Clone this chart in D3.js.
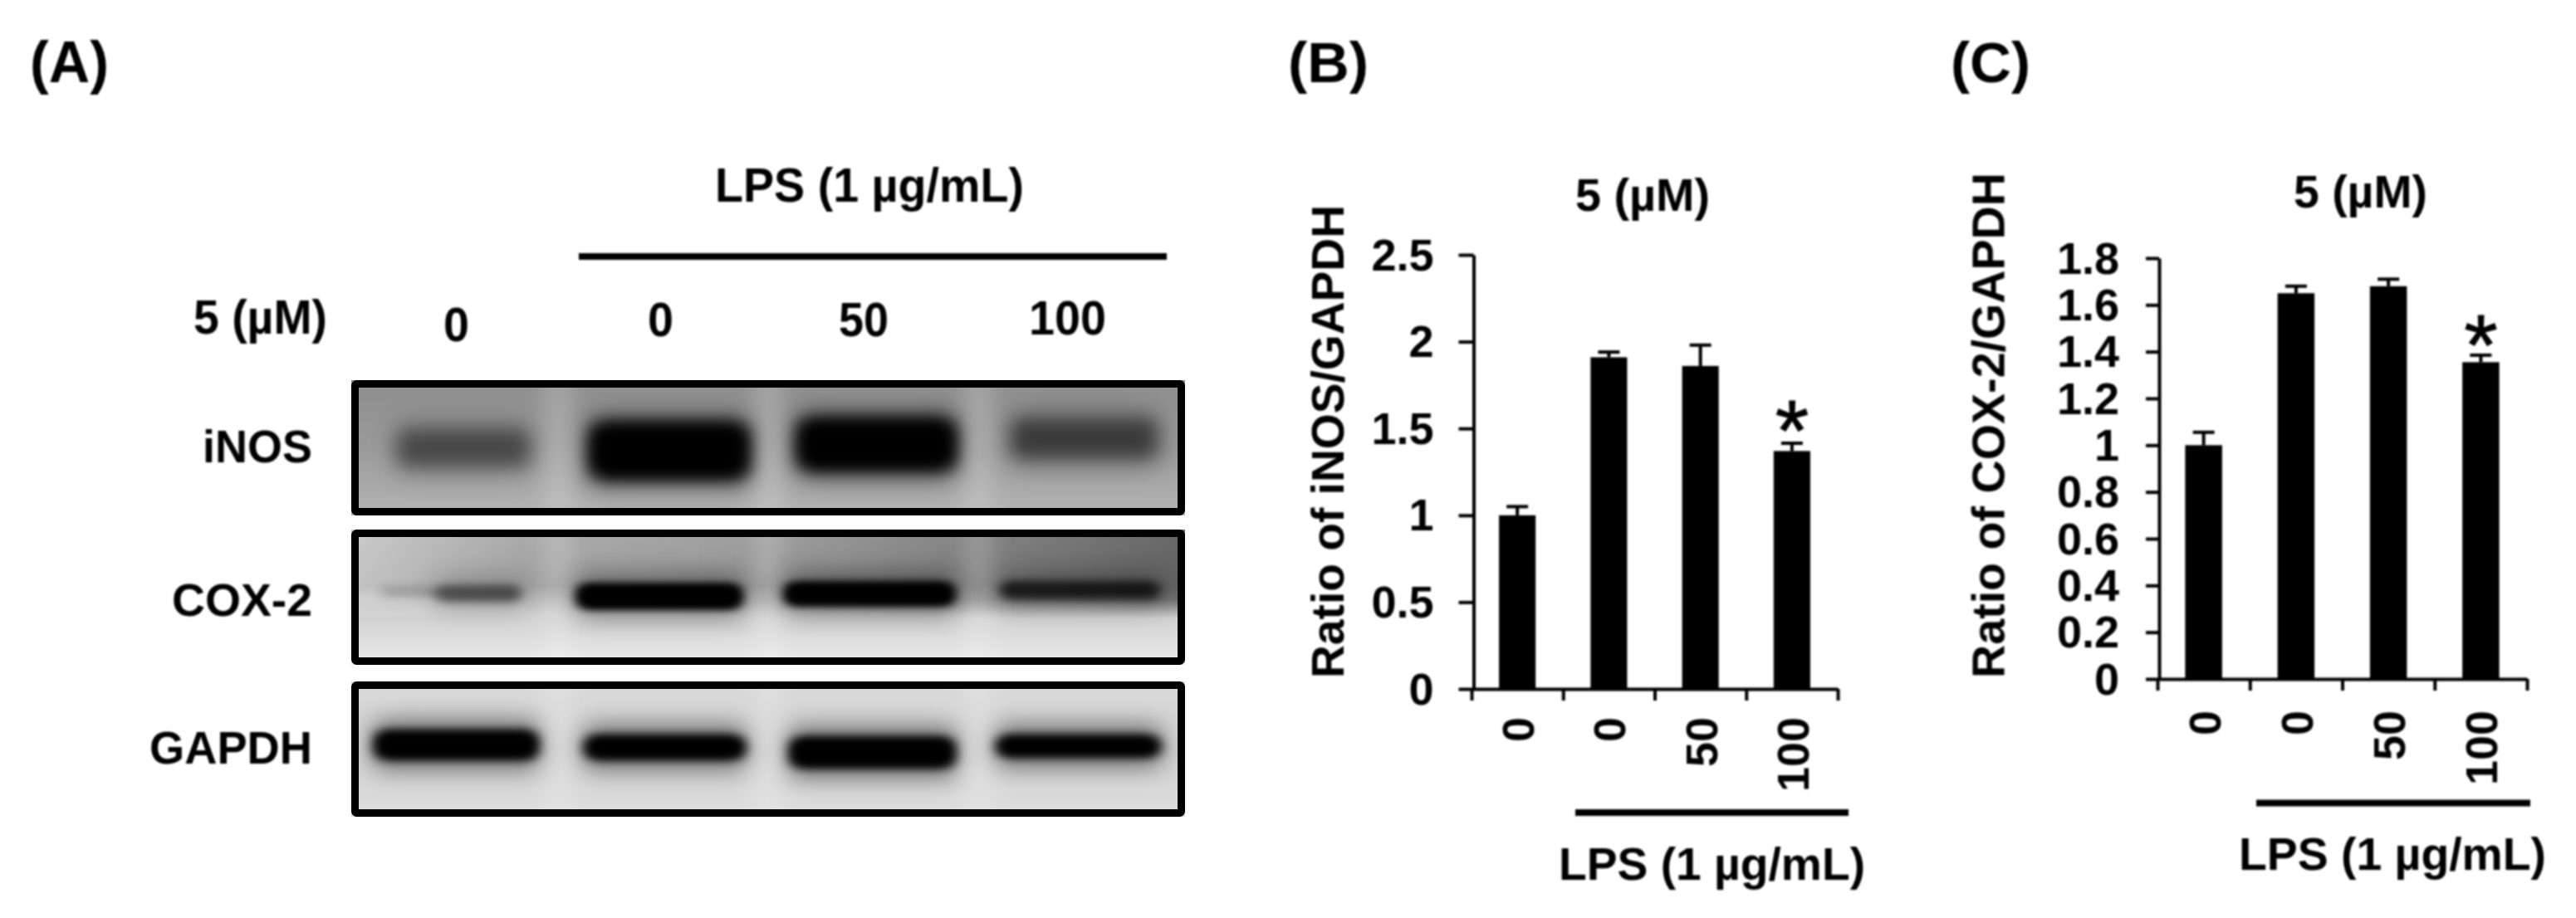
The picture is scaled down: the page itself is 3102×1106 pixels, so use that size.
<!DOCTYPE html>
<html><head><meta charset="utf-8">
<style>html,body{margin:0;padding:0;background:#fff}svg{display:block}
text{font-family:"Liberation Sans",Arial,sans-serif;font-weight:700;fill:#000}
.axis path,.axis line{stroke:#000;stroke-width:4;fill:none}
.axis text{font-family:"Liberation Sans",Arial,sans-serif;font-weight:700;font-size:54px;fill:#000}
</style>
<script src="https://cdnjs.cloudflare.com/ajax/libs/d3/7.8.5/d3.min.js"></script>
</head><body><script>
// ---------- data ----------
const laneLabels = ["0","0","50","100"];
const proteins = ["iNOS","COX-2","GAPDH"];
const inosBandDarkness = [0.42,1,1,0.5];
const coxBandDarkness = [0.5,1,1,0.72];
const gapdhBandDarkness = [1,1,1,1];
const inosTicks = [0,0.5,1,1.5,2,2.5];
const inosRatio = [1.0,1.91,1.86,1.37];
const inosUpper = [1.05,1.94,1.98,1.415];
const coxTicks = [0,0.2,0.4,0.6,0.8,1,1.2,1.4,1.6,1.8];
const coxRatio = [1.0,1.65,1.68,1.355];
const coxUpper = [1.055,1.68,1.71,1.385];
const lpsLabel = "LPS (1 µg/mL)";
const doseLabel = "5 (µM)";

// ---------- canvas ----------
const svg = d3.select("body").append("svg").attr("width",3102).attr("height",1106);
const defs = svg.append("defs");
function blur(id,sx,sy){
  defs.append("filter").attr("id",id).attr("filterUnits","userSpaceOnUse")
    .attr("x",0).attr("y",0).attr("width",3102).attr("height",1106)
    .append("feGaussianBlur").attr("stdDeviation",sx+" "+sy);
}
blur("soft",1,1); blur("gap",14,10);
blur("core0",11,10); blur("core1",7,5); blur("core2",8,6);
blur("halo0",16,14); blur("halo1",16,12); blur("halo2",14,13);
const root = svg.append("g");

function label(g,t,x0,x1,base,size){
  return g.append("text").text(t).attr("x",x0).attr("y",base)
    .attr("font-size",size).attr("textLength",x1-x0).attr("lengthAdjust","spacingAndGlyphs");
}
function vlabel(g,t,xBase,yBottom,yTop,size){
  return g.append("text").text(t).attr("transform",`translate(${xBase},${yBottom}) rotate(-90)`)
    .attr("font-size",size).attr("textLength",yBottom-yTop).attr("lengthAdjust","spacingAndGlyphs");
}
const txt = root.append("g").attr("filter","url(#soft)");

// ---------- panel letters ----------
label(txt,"(A)",36,131,99,70);
label(txt,"(B)",1551,1648,99,68);
label(txt,"(C)",2349,2445,99,68);

// ---------- panel A ----------
label(txt,lpsLabel,861,1233,243,58);
txt.append("rect").attr("x",697).attr("y",305).attr("width",708).attr("height",8);
label(txt,doseLabel,233,394,402,58);
const topLabelGeom=[[534,565,411],[780,811,405],[1010,1070,405],[1239,1332,403]];
laneLabels.forEach((d,i)=>label(txt,d,topLabelGeom[i][0],topLabelGeom[i][1],topLabelGeom[i][2],58));
const proteinGeom=[[244,557],[207,742],[180,920]];
proteins.forEach((d,i)=>label(txt,d,proteinGeom[i][0],376,proteinGeom[i][1],55));

const blotX=[423,1427];
const blotY=[[458,621],[638,801],[821,984]];
const border=9;
function gradient(id,stops,horizontal){
  const g=defs.append("linearGradient").attr("id",id).attr("x1",0).attr("y1",0)
    .attr("x2",horizontal?1:0).attr("y2",horizontal?0:1);
  stops.forEach(s=>g.append("stop").attr("offset",s[0]).attr("stop-color",s[1]).attr("stop-opacity",s[2]===undefined?1:s[2]));
}
gradient("bg0",[[0,"#8e8e8e"],[0.5,"#9a9a9a"],[1,"#b4b4b4"]]);
gradient("bg1",[[0,"#a8a8a8"],[0.42,"#9c9c9c"],[0.62,"#cfcfcf"],[1,"#ebebeb"]]);
gradient("bg2",[[0,"#dadada"],[0.5,"#cfcfcf"],[1,"#dedede"]]);
gradient("cox1",[[0,"#fff",0.4],[0.2,"#fff",0.05],[0.55,"#000",0.08],[1,"#000",0.38]],true);
gradient("coxv",[[0,"#fff",1],[0.52,"#fff",1],[0.66,"#fff",0],[1,"#fff",0]]);
const maskCox=defs.append("mask").attr("id","coxMask").attr("maskUnits","userSpaceOnUse")
  .attr("x",423).attr("y",638).attr("width",1004).attr("height",163);
maskCox.append("rect").attr("x",423).attr("y",638).attr("width",1004).attr("height",163).attr("fill","url(#coxv)");

const bandGeom=[
 [[476,640,520,560],[709,903,513,573],[959,1152,508,563],[1215,1396,507,550]],
 [[522,630,707,723],[692,896,705,732],[942,1152,703,728],[1202,1399,702,720]],
 [[449,650,882,913],[702,899,888,913],[949,1152,890,923],[1198,1399,888,910]]
];
const gapsX=[672,925,1178];
const darkness=[inosBandDarkness,coxBandDarkness,gapdhBandDarkness];
proteins.forEach((p,k)=>{
  const [y0,y1]=blotY[k];
  const clip=defs.append("clipPath").attr("id","clip"+k);
  clip.append("rect").attr("x",blotX[0]).attr("y",y0).attr("width",blotX[1]-blotX[0]).attr("height",y1-y0);
  const g=root.append("g").attr("clip-path",`url(#clip${k})`);
  g.append("rect").attr("x",blotX[0]).attr("y",y0).attr("width",blotX[1]-blotX[0]).attr("height",y1-y0).attr("fill",`url(#bg${k})`);
  if(k===1) g.append("rect").attr("x",blotX[0]).attr("y",y0).attr("width",blotX[1]-blotX[0]).attr("height",y1-y0)
     .attr("fill","url(#cox1)").attr("mask","url(#coxMask)");
  // smear above / below each band
  const haloAmt=[0.42,0.3,0.42][k], haloPad=16;
  g.selectAll("rect.h").data(bandGeom[k]).join("rect").attr("class","h")
    .attr("x",d=>d[0]).attr("width",d=>d[1]-d[0])
    .attr("y",d=>d[2]-haloPad).attr("height",d=>d[3]-d[2]+haloPad*2)
    .attr("rx",14).attr("filter",`url(#halo${k})`)
    .attr("opacity",(d,i)=>haloAmt*darkness[k][i]);
  // lighter gaps between lanes
  g.selectAll("rect.g").data(gapsX).join("rect").attr("class","g")
    .attr("x",d=>d-14).attr("width",28).attr("y",y0-10).attr("height",y1-y0+20)
    .attr("fill","#fff").attr("opacity",0.22).attr("filter","url(#gap)");
  // faint trailing edge of the first COX-2 band
  if(k===1) g.append("rect").attr("x",460).attr("y",706).attr("width",70).attr("height",14)
    .attr("filter","url(#core1)").attr("opacity",0.16);
  // band cores, two passes so the strong bands saturate to black
  [0,1].forEach(pass=>{
    g.selectAll("rect.c"+pass).data(bandGeom[k]).join("rect").attr("class","c"+pass)
      .attr("x",d=>d[0]+2+pass*6).attr("width",d=>d[1]-d[0]-4-pass*12)
      .attr("y",d=>d[2]-2+pass*4).attr("height",d=>d[3]-d[2]+4-pass*8)
      .attr("rx",12).attr("filter",`url(#core${k})`)
      .attr("opacity",(d,i)=>pass===0?darkness[k][i]:(darkness[k][i]>=0.9?darkness[k][i]:0));
  });
  root.append("rect").attr("x",blotX[0]+border/2).attr("y",y0+border/2)
    .attr("width",blotX[1]-blotX[0]-border).attr("height",y1-y0-border)
    .attr("fill","none").attr("stroke","#000").attr("stroke-width",border).attr("rx",2);
});

// ---------- bar panels ----------
function barPanel(c){
  const g=root.append("g").attr("filter","url(#soft)");
  const y=d3.scaleLinear().domain(c.domain).range([c.yBottom,c.yTop]);
  const edge=d3.scaleLinear().domain([0,4]).range(c.xEdges);
  const band=d3.scaleBand().domain(d3.range(4)).range(c.xEdges).paddingInner(0.6).paddingOuter(0.3);
  g.selectAll("rect.bar").data(c.values).join("rect").attr("class","bar")
    .attr("x",(d,i)=>band(i)).attr("width",band.bandwidth())
    .attr("y",d=>y(d)).attr("height",d=>y(0)-y(d)).attr("fill","#000");
  const cx=i=>band(i)+band.bandwidth()/2;
  g.selectAll("line.stem").data(c.upper).join("line").attr("class","stem")
    .attr("x1",(d,i)=>cx(i)).attr("x2",(d,i)=>cx(i))
    .attr("y1",(d,i)=>y(c.values[i])).attr("y2",d=>y(d))
    .attr("stroke","#000").attr("stroke-width",4);
  g.selectAll("line.cap").data(c.upper).join("line").attr("class","cap")
    .attr("x1",(d,i)=>cx(i)-13).attr("x2",(d,i)=>cx(i)+13)
    .attr("y1",d=>y(d)).attr("y2",d=>y(d))
    .attr("stroke","#000").attr("stroke-width",4);
  g.append("g").attr("class","axis").attr("transform",`translate(${c.xAxis},0)`)
    .call(d3.axisLeft(y).tickValues(c.ticks).tickFormat(d=>String(d)).tickSize(c.tickLen).tickPadding(48-c.tickLen).tickSizeOuter(0))
    .selectAll("text").attr("dy","18px");
  g.append("g").attr("class","axis").attr("transform",`translate(0,${c.yBottom})`)
    .call(d3.axisBottom(edge).tickValues([0,1,2,3,4]).tickFormat("").tickSize(14).tickSizeOuter(0));
  const xl=g.append("g").attr("class","axis").attr("transform",`translate(0,${c.yBottom})`)
    .call(d3.axisBottom(band).tickFormat(i=>laneLabels[i]).tickSize(0).tickSizeOuter(0));
  xl.select("path").remove();
  xl.selectAll("text").attr("dy",null)
    .attr("text-anchor","end").attr("x",0).attr("y",0)
    .attr("transform",`translate(20,${c.labelTop-c.yBottom}) rotate(-90)`);
  label(g,doseLabel,c.doseX[0],c.doseX[1],c.doseBase,55);
  vlabel(g,c.title,c.titleX,817,c.titleTop,56);
  g.append("rect").attr("x",c.line[0]).attr("y",c.line[2]-4).attr("width",c.line[1]-c.line[0]).attr("height",8);
  label(g,lpsLabel,c.lps[0],c.lps[1],c.lps[2],56);
  g.append("text").text("*").attr("x",cx(3)).attr("y",c.starBase).attr("text-anchor","middle")
    .attr("font-size",104).style("font-weight",400).attr("stroke","#000").attr("stroke-width",1);
}
barPanel({domain:[0,2.5],ticks:inosTicks,values:inosRatio,upper:inosUpper,yBottom:830,yTop:307,xAxis:1774.5,xEdges:[1772,2213],tickLen:18,
  labelTop:864,doseX:[1897,2059],doseBase:254,title:"Ratio of iNOS/GAPDH",titleX:1618,titleTop:247,line:[1897,2226,979],lps:[1877,2246,1060],starBase:555});
barPanel({domain:[0,1.8],ticks:coxTicks,values:coxRatio,upper:coxUpper,yBottom:818,yTop:311,xAxis:2600,xEdges:[2598,3043],tickLen:16,
  labelTop:856,doseX:[2762,2923],doseBase:250,title:"Ratio of COX-2/GAPDH",titleX:2413.5,titleTop:208,line:[2717,3047,967.5],lps:[2696,3066,1048],starBase:452});
</script></body></html>
